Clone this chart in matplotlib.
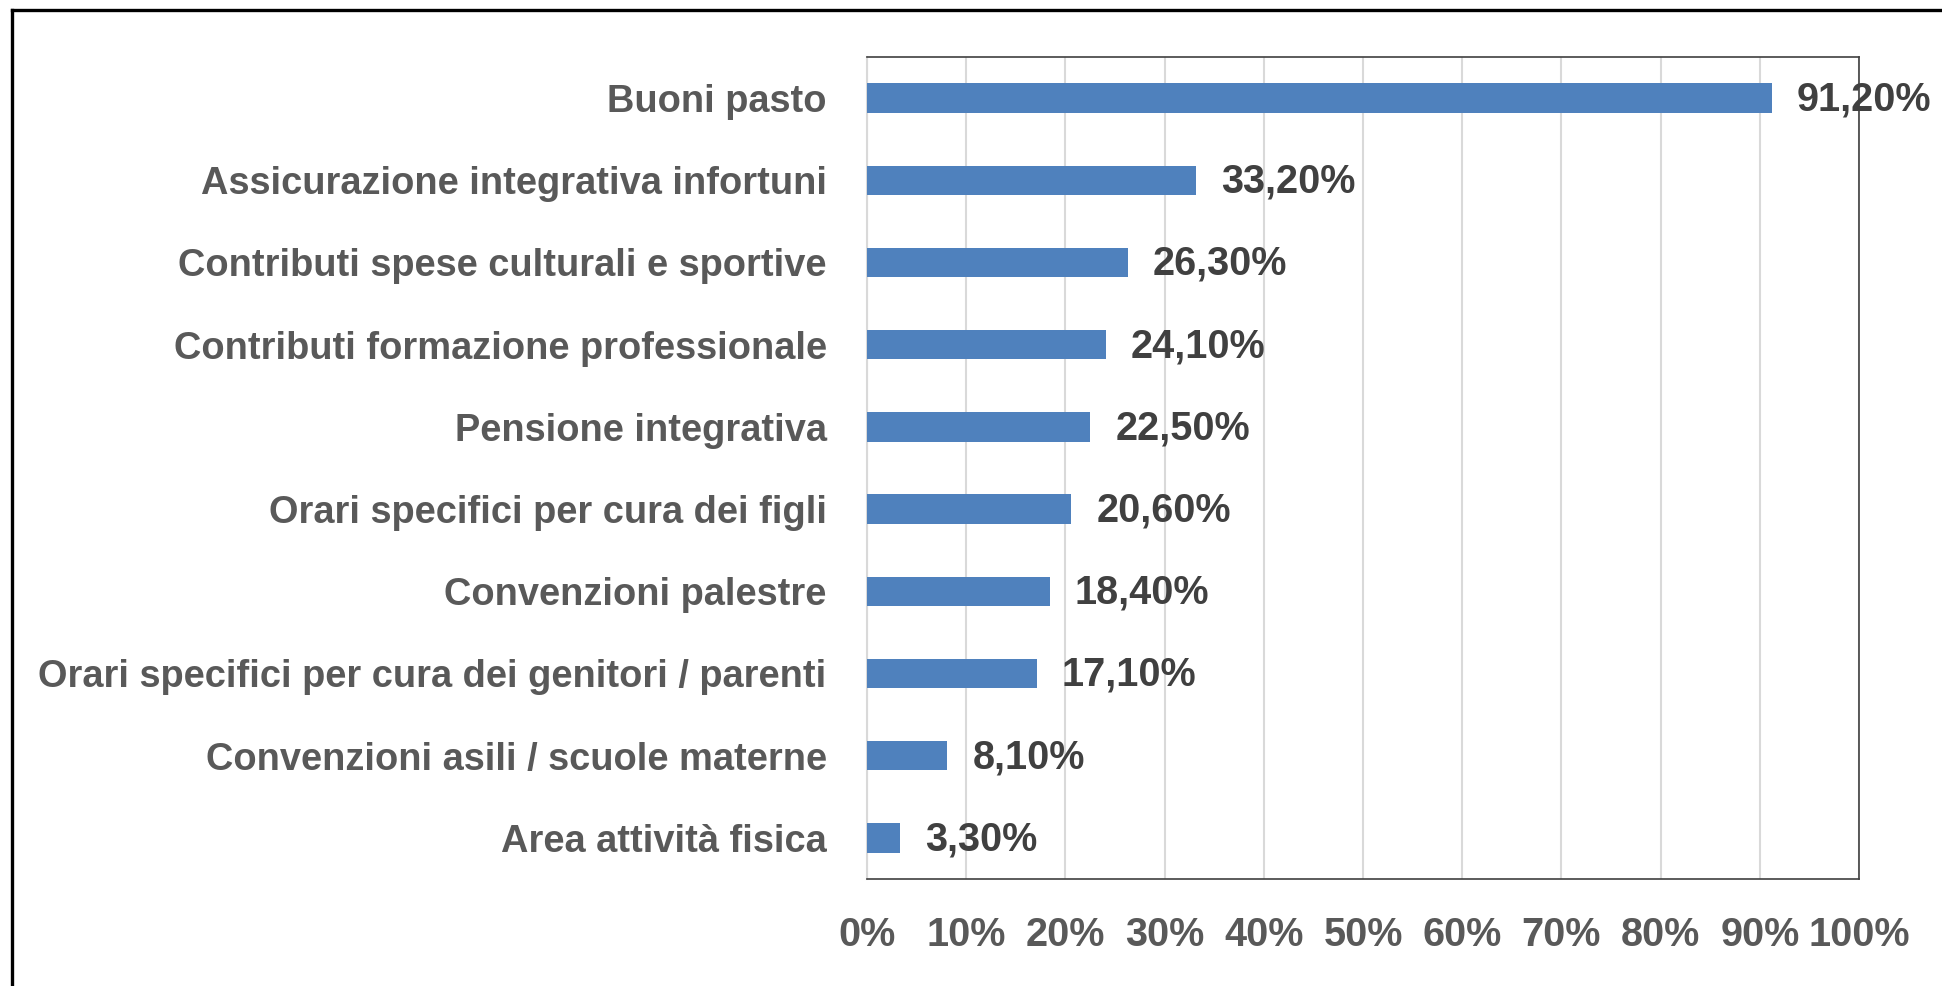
import matplotlib
matplotlib.use("Agg")
import matplotlib.pyplot as plt
from matplotlib.lines import Line2D

categories = [
    "Buoni pasto",
    "Assicurazione integrativa infortuni",
    "Contributi spese culturali e sportive",
    "Contributi formazione professionale",
    "Pensione integrativa",
    "Orari specifici per cura dei figli",
    "Convenzioni palestre",
    "Orari specifici per cura dei genitori / parenti",
    "Convenzioni asili / scuole materne",
    "Area attività fisica",
]
values = [91.2, 33.2, 26.3, 24.1, 22.5, 20.6, 18.4, 17.1, 8.1, 3.3]
value_labels = ["91,20%", "33,20%", "26,30%", "24,10%", "22,50%",
                "20,60%", "18,40%", "17,10%", "8,10%", "3,30%"]
tick_values = [0, 10, 20, 30, 40, 50, 60, 70, 80, 90, 100]
tick_labels = ["0%", "10%", "20%", "30%", "40%", "50%", "60%", "70%", "80%", "90%", "100%"]

plt.rcParams['font.family'] = ['Liberation Sans', 'DejaVu Sans']

W, H = 1942, 986
fig = plt.figure(figsize=(W / 100, H / 100), dpi=100)
fig.patch.set_facecolor("white")

ax = fig.add_axes([867 / W, 1 - 879 / H, (1859 - 867) / W, (879 - 57) / H])

ypos = list(range(len(categories)))
ax.barh(ypos, values, height=0.36, color="#4F81BD", zorder=3)
ax.set_ylim(len(categories) - 0.5, -0.5)
ax.set_xlim(0, 100)

ax.set_yticks(ypos)
ax.set_yticklabels(categories, fontsize=27.4, fontweight="bold", color="#595959")
ax.set_xticks(tick_values)
ax.set_xticklabels(tick_labels, fontsize=28.5, fontweight="bold", color="#595959")
ax.tick_params(axis="y", length=0, pad=29)
ax.tick_params(axis="x", length=0, pad=27)

ax.grid(axis="x", color="#D9D9D9", linewidth=1.5, zorder=0)
ax.set_axisbelow(True)
for s in ["top", "right", "bottom"]:
    ax.spines[s].set_color("#404040")
    ax.spines[s].set_linewidth(1.2)
ax.spines["left"].set_color("#D9D9D9")
ax.spines["left"].set_linewidth(1.5)

for y, v, lab in zip(ypos, values, value_labels):
    ax.annotate(lab, xy=(v, y), xytext=(18, -1), textcoords="offset points",
                ha="left", va="center", fontsize=28.5, fontweight="bold",
                color="#404040", zorder=5, annotation_clip=False)

# outer frame (left and top edges visible)
fig.add_artist(Line2D([12 / W, 12 / W], [0, 1 - 10 / H], transform=fig.transFigure,
                      color="black", linewidth=2.4, solid_capstyle="projecting"))
fig.add_artist(Line2D([12 / W, 1], [1 - 10 / H, 1 - 10 / H], transform=fig.transFigure,
                      color="black", linewidth=2.4, solid_capstyle="projecting"))

fig.savefig("out.png", dpi=100, facecolor="white")
